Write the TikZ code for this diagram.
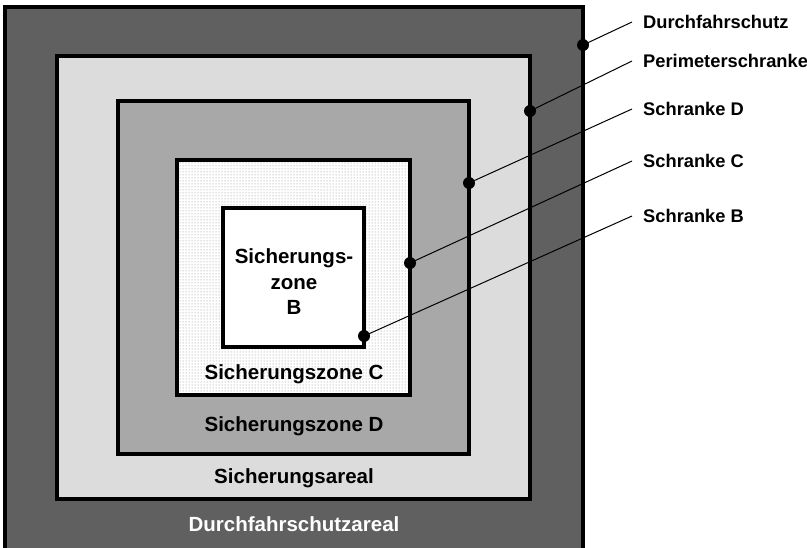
\documentclass[tikz,border=0pt]{standalone}
\usepackage{fontspec}
\setmainfont{Liberation Sans}
\usetikzlibrary{patterns}
\definecolor{darkzone}{HTML}{606060}
\definecolor{areal}{HTML}{DCDCDC}
\definecolor{zoneD}{HTML}{A8A8A8}
\definecolor{dotgray}{HTML}{8A8A8A}
\begin{document}
\begin{tikzpicture}[x=1pt,y=-1pt,
  border/.style={draw=black,line width=3.2pt},
  pin/.style={circle,fill=black,inner sep=0pt,minimum size=12pt},
  tag/.style={anchor=west,inner xsep=11pt,inner ysep=0pt,font=\fontsize{18.3}{22}\selectfont\bfseries},
  zonelabel/.style={inner sep=0pt,align=center,font=\fontsize{20.5}{25.5}\selectfont\bfseries},
  leader/.style={draw=black,line width=1pt}]
\useasboundingbox (0,0) rectangle (807,547);
\clip (0,0) rectangle (807,547);
\fill[white] (0,0) rectangle (807,547);
% zones
\draw[border,fill=darkzone] (5,7) rectangle (583,570);
\draw[border,fill=areal] (57,56) rectangle (530,499);
\draw[border,fill=zoneD] (118,101) rectangle (469,454);
\fill[white] (177,160) rectangle (410,395);
\fill[pattern=dots,pattern color=dotgray] (177,160) rectangle (410,395);
\draw[border] (177,160) rectangle (410,395);
\draw[border,fill=white] (223,208) rectangle (364,347);
% zone labels
\node[zonelabel] (lB) at (294,282) {Sicherungs-\\zone\\B};
\node[zonelabel] (lC) at (294,374) {Sicherungszone C};
\node[zonelabel] (lD) at (294,426) {Sicherungszone D};
\node[zonelabel] (lA) at (294,478) {Sicherungsareal};
\node[zonelabel,text=white] (lO) at (294,524) {Durchfahrschutzareal};
% pins
\node[pin] (p1) at (583,45) {};
\node[pin] (p2) at (530,111) {};
\node[pin] (p3) at (469,183) {};
\node[pin] (p4) at (410,263) {};
\node[pin] (p5) at (364,336) {};
% tags
\node[tag] (t1) at (632,22) {Durchfahrschutz};
\node[tag] (t2) at (632,61) {Perimeterschranke};
\node[tag] (t3) at (632,109) {Schranke D};
\node[tag] (t4) at (632,161) {Schranke C};
\node[tag] (t5) at (632,216) {Schranke B};
% leaders
\draw[leader] (p1.center) -- (t1.west);
\draw[leader] (p2.center) -- (t2.west);
\draw[leader] (p3.center) -- (t3.west);
\draw[leader] (p4.center) -- (t4.west);
\draw[leader] (p5.center) -- (t5.west);
\end{tikzpicture}
\end{document}
